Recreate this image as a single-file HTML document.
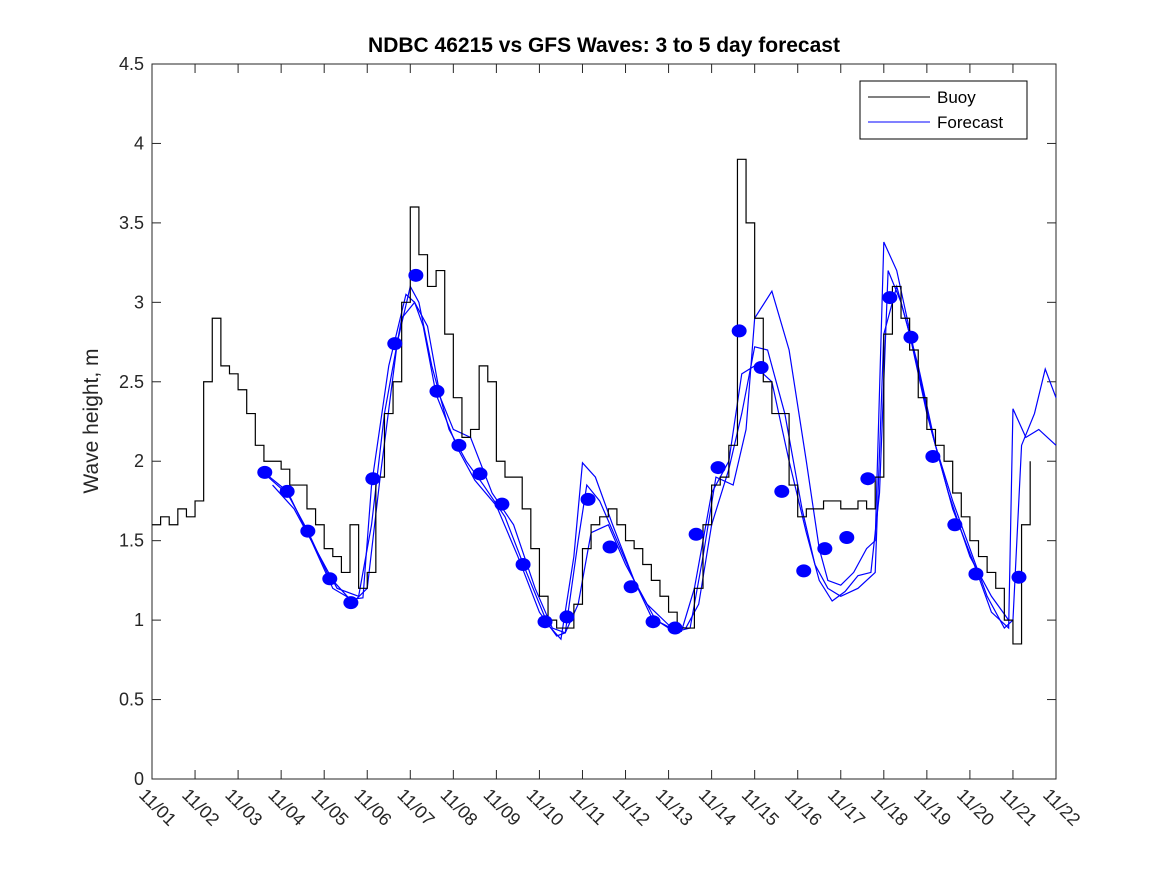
<!DOCTYPE html>
<html><head><meta charset="utf-8"><style>
body{margin:0;background:#fff;}
svg text{font-family:"Liberation Sans","DejaVu Sans",sans-serif;}
</style></head><body>
<svg id="chart" width="1167" height="875">
<rect x="0" y="0" width="1167" height="875" fill="#fff"/>
<text x="604" y="52" text-anchor="middle" font-size="21" font-weight="bold" fill="#000">NDBC 46215 vs GFS Waves: 3 to 5 day forecast</text>
<text transform="translate(98,421) rotate(-90)" text-anchor="middle" font-size="21" fill="#262626">Wave height, m</text>
<g id="axes"></g>
<g id="series"></g>
<g>
<rect x="860" y="81" width="167" height="58" fill="#fff" stroke="#000" stroke-width="1"/>
<line x1="868" y1="97" x2="930" y2="97" stroke="#000"/>
<text x="937" y="103" font-size="17" fill="#000">Buoy</text>
<line x1="868" y1="122" x2="930" y2="122" stroke="#00f"/>
<text x="937" y="128" font-size="17" fill="#000">Forecast</text>
</g>
</svg>
<script>
const xTicks=["11/01","11/02","11/03","11/04","11/05","11/06","11/07","11/08","11/09","11/10","11/11","11/12","11/13","11/14","11/15","11/16","11/17","11/18","11/19","11/20","11/21","11/22"];
const yTicks=[0,0.5,1,1.5,2,2.5,3,3.5,4,4.5];
const buoyStep=0.2;
const buoyVals=[1.6,1.65,1.6,1.7,1.65,1.75,2.5,2.9,2.6,2.55,2.45,2.3,2.1,2.0,2.0,1.95,1.85,1.85,1.7,1.6,1.45,1.4,1.3,1.6,1.2,1.3,1.9,2.3,2.5,3.0,3.6,3.3,3.1,3.2,2.8,2.4,2.15,2.2,2.6,2.5,2.0,1.9,1.9,1.7,1.45,1.15,1.0,0.95,0.95,1.1,1.45,1.6,1.65,1.7,1.6,1.5,1.45,1.35,1.25,1.15,1.05,0.95,0.95,1.2,1.6,1.85,1.9,2.1,3.9,3.5,2.9,2.5,2.3,2.3,1.85,1.65,1.7,1.7,1.75,1.75,1.7,1.7,1.75,1.7,1.9,2.8,3.1,2.9,2.7,2.4,2.2,2.1,2.0,1.8,1.65,1.5,1.4,1.3,1.2,1.0,0.85,1.6,2.0];
const dotDays=[2.62,3.14,3.62,4.13,4.62,5.13,5.64,6.13,6.62,7.13,7.62,8.13,8.62,9.13,9.64,10.13,10.64,11.13,11.64,12.15,12.64,13.15,13.64,14.15,14.63,15.14,15.63,16.14,16.63,17.14,17.63,18.14,18.65,19.14,20.14];
const dotVals=[1.93,1.81,1.56,1.26,1.11,1.89,2.74,3.17,2.44,2.10,1.92,1.73,1.35,0.99,1.02,1.76,1.46,1.21,0.99,0.95,1.54,1.96,2.82,2.59,1.81,1.31,1.45,1.52,1.89,3.03,2.78,2.03,1.60,1.29,1.27];
const f1Days=[2.6,3.1,3.6,4.1,4.6,4.9,5.1,5.5,5.9,6.1,6.3,6.6,7.1,7.5,8.0,8.5,9.0,9.4,9.6,9.9,10.1,10.4,10.8,11.2,11.6,12.0,12.3,12.6,13.0,13.4,13.7,14.0,14.4,14.8,15.2,15.5,15.8,16.1,16.4,16.7,16.9,17.1,17.4,17.8,18.2,18.6,19.0,19.4,19.8,20.0,20.2,20.5,20.75,21.0];
const f1Vals=[1.93,1.82,1.57,1.28,1.13,1.14,1.85,2.6,3.05,3.0,2.85,2.42,2.08,1.88,1.72,1.4,1.05,0.9,0.92,1.5,1.85,1.75,1.5,1.25,1.02,0.95,0.93,1.2,1.8,2.0,2.55,2.6,2.5,2.0,1.55,1.25,1.12,1.18,1.28,1.3,1.8,3.2,3.0,2.6,2.1,1.75,1.45,1.15,0.95,1.0,2.1,2.3,2.58,2.4];
const f2Days=[2.7,3.2,3.7,4.2,4.7,5.0,5.3,5.7,6.0,6.2,6.5,6.9,7.3,7.7,8.2,8.7,9.2,9.5,9.8,10.0,10.3,10.7,11.2,11.7,12.2,12.5,12.8,13.1,13.5,13.8,14.0,14.4,14.8,15.2,15.5,15.7,16.0,16.3,16.6,16.8,17.0,17.3,17.7,18.1,18.6,19.1,19.5,19.9,20.0,20.3,20.6,21.0];
const f2Vals=[1.9,1.78,1.5,1.2,1.12,1.2,1.9,2.75,3.1,3.0,2.6,2.2,2.0,1.85,1.65,1.3,0.97,0.88,1.4,1.99,1.9,1.6,1.25,1.0,0.93,0.95,1.4,1.9,1.85,2.2,2.9,3.07,2.7,2.0,1.45,1.25,1.22,1.3,1.45,1.5,3.38,3.2,2.7,2.2,1.7,1.35,1.05,0.95,2.33,2.15,2.2,2.1];
const f3Days=[2.8,3.3,3.8,4.3,4.8,5.1,5.4,5.8,6.1,6.4,6.7,7.0,7.4,7.9,8.4,8.9,9.3,9.6,9.9,10.2,10.6,11.0,11.5,12.0,12.4,12.7,13.0,13.4,13.7,14.0,14.3,14.7,15.1,15.4,15.7,16.0,16.4,16.8,17.0,17.3,17.6,18.0,18.5,19.0,19.5,19.9];
const f3Vals=[1.85,1.7,1.45,1.2,1.15,1.6,2.3,2.9,3.0,2.85,2.4,2.2,2.15,1.8,1.6,1.2,0.95,0.92,1.1,1.55,1.6,1.35,1.1,0.97,0.95,1.1,1.6,1.95,2.3,2.72,2.7,2.3,1.7,1.35,1.2,1.15,1.2,1.3,2.8,3.1,2.8,2.3,1.8,1.4,1.15,1.0];
const SVGNS="http://www.w3.org/2000/svg";
const L=152,R=1056,T=64,B=779;
function xs(d){return L+(R-L)*d/21;}
function ys(v){return B-(B-T)*v/4.5;}
const axes=document.getElementById('axes'),ser=document.getElementById('series');
function mk(tag,at,parent){const e=document.createElementNS(SVGNS,tag);for(const k in at)e.setAttribute(k,at[k]);parent.appendChild(e);return e;}
const frame=mk('rect',{x:L,y:T,width:R-L,height:B-T,fill:'none',stroke:'#262626','stroke-width':1},axes);


yTicks.forEach(v=>{const y=ys(v);
mk('line',{x1:L,y1:y,x2:L+9,y2:y,stroke:'#262626'},axes);
mk('line',{x1:R,y1:y,x2:R-9,y2:y,stroke:'#262626'},axes);
const t=mk('text',{x:L-8,y:y+6,'text-anchor':'end','font-size':18,fill:'#262626'},axes);t.textContent=String(v);

});
xTicks.forEach((s,i)=>{const x=xs(i);
mk('line',{x1:x,y1:B,x2:x,y2:B-9,stroke:'#262626'},axes);
mk('line',{x1:x,y1:T,x2:x,y2:T+9,stroke:'#262626'},axes);
const t=mk('text',{x:0,y:0,transform:`translate(${x-14},${B+17}) rotate(45)`,'font-size':18,fill:'#262626'},axes);t.textContent=s;

});
function line(days,vals,color,name,step){let d='';for(let i=0;i<days.length;i++){const x=xs(days[i]),y=ys(vals[i]);
if(i===0)d+=`M${x},${y}`;else if(step)d+=`H${x}V${y}`;else d+=`L${x},${y}`;}
const p=mk('path',{d:d,fill:'none',stroke:color,'stroke-width':1.2},ser);

}
line(f1Days,f1Vals,'#00f','forecast-line-1',false);
line(f2Days,f2Vals,'#00f','forecast-line-2',false);
line(f3Days,f3Vals,'#00f','forecast-line-3',false);
const buoyDays=buoyVals.map((v,i)=>i*buoyStep);
line(buoyDays,buoyVals,'#000','buoy-line',true);
dotDays.forEach((d,i)=>{const c=mk('ellipse',{cx:xs(d),cy:ys(dotVals[i]),rx:7.5,ry:6.5,fill:'#00f'},ser);

});
</script>
</body></html>
